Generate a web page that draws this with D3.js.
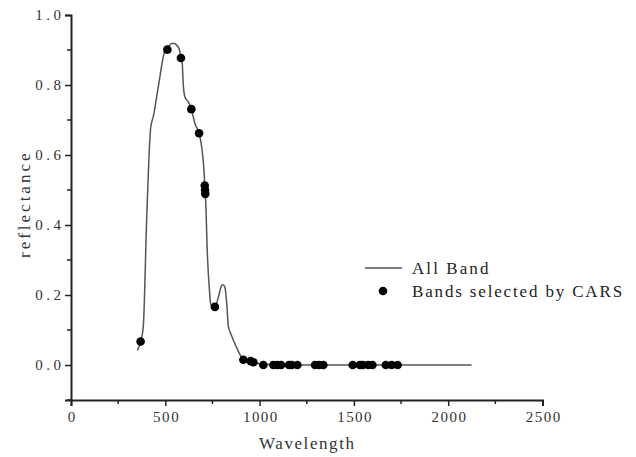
<!DOCTYPE html>
<html>
<head>
<meta charset="utf-8">
<script src="https://cdn.jsdelivr.net/npm/d3@7"></script>
<style>
  body { margin: 0; background: #fff; }
  svg text { font-family: "Liberation Serif", "DejaVu Serif", serif; }
</style>
</head>
<body>
<div id="chart"></div>
<script>
// full spectrum (wavelength nm, reflectance)
var bandWl = [352, 369, 383, 401, 413, 423, 436, 463, 495, 511, 525, 537, 550, 560, 574, 583, 590, 595, 604, 622, 638, 657, 679, 693, 705, 710, 714, 723, 733, 741, 754, 764, 781, 798, 806, 816, 826, 834, 852, 878, 905, 914, 953, 967, 1020, 1073, 1200, 1500, 1800, 2124];
var bandR  = [0.042, 0.067, 0.107, 0.413, 0.590, 0.680, 0.709, 0.795, 0.893, 0.905, 0.915, 0.919, 0.918, 0.914, 0.902, 0.877, 0.860, 0.804, 0.766, 0.752, 0.731, 0.690, 0.662, 0.623, 0.556, 0.505, 0.470, 0.317, 0.222, 0.174, 0.164, 0.166, 0.193, 0.226, 0.229, 0.222, 0.174, 0.112, 0.083, 0.050, 0.021, 0.015, 0.011, 0.008, 0.002, 0.001, 0.0, 0.0, 0.0, 0.0];

// bands picked by CARS
var carsWl = [369, 511, 583, 638, 679, 709, 711, 712, 763, 914, 953, 967, 1020, 1073, 1094, 1114, 1156, 1170, 1200, 1294, 1315, 1338, 1494, 1532, 1547, 1576, 1598, 1669, 1700, 1732];
var carsR  = [0.067, 0.901, 0.877, 0.731, 0.662, 0.513, 0.500, 0.489, 0.166, 0.015, 0.011, 0.008, 0.0, 0.0, 0.0, 0.0, 0.0, 0.0, 0.0, 0.0, 0.0, 0.0, 0.0, 0.0, 0.0, 0.0, 0.0, 0.0, 0.0, 0.0];

var xTicks = [0, 500, 1000, 1500, 2000, 2500];
var yTicks = [0.0, 0.2, 0.4, 0.6, 0.8, 1.0];
var legendLabels = ["All Band", "Bands selected by CARS"];

var width = 636, height = 457;
var svg = d3.select("#chart").append("svg")
    .attr("width", width)
    .attr("height", height);

var x = d3.scaleLinear().domain([0, 2500]).range([71, 542.5]);
var y = d3.scaleLinear().domain([-0.1, 1.0]).range([400, 15]);

// minor ticks
var xMinor = d3.range(0, 2501, 250).filter(function(d){ return d % 500 != 0; });
var yMinor = d3.range(-0.1, 1.0, 0.2).map(function(d){ return +d.toFixed(1); });

svg.append("g").selectAll("line").data(xMinor).enter().append("line")
    .attr("x1", function(d){ return x(d); }).attr("x2", function(d){ return x(d); })
    .attr("y1", 400).attr("y2", 404)
    .attr("stroke", "#222").attr("stroke-width", 1.5);
svg.append("g").selectAll("line").data(yMinor).enter().append("line")
    .attr("y1", function(d){ return y(d); }).attr("y2", function(d){ return y(d); })
    .attr("x1", 71).attr("x2", 67)
    .attr("stroke", "#222").attr("stroke-width", 1.5);

var xAxis = svg.append("g")
    .attr("transform", "translate(0,400)")
    .call(d3.axisBottom(x).tickValues(xTicks).tickSize(6).tickPadding(5).tickFormat(d3.format("d")));
var yAxis = svg.append("g")
    .attr("transform", "translate(71,0)")
    .call(d3.axisLeft(y).tickValues(yTicks).tickSize(6).tickPadding(4).tickFormat(d3.format(".1f")));

// monospace-like spacing: stretch each label to ~9px per char
function mono(sel, perChar) {
    sel.attr("textLength", function(){ return this.textContent.length * perChar; })
       .attr("lengthAdjust", "spacing");
}

[xAxis, yAxis].forEach(function(a){
    a.attr("font-family", null);
    a.select(".domain").attr("stroke", "#222").attr("stroke-width", 2);
    a.selectAll(".tick line").attr("stroke", "#222").attr("stroke-width", 1.5);
    a.selectAll(".tick text")
        .attr("fill", "#333")
        .style("font-size", "15px")
        .call(mono, 8.6);
});

svg.append("text").text("Wavelength")
    .attr("x", 259).attr("y", 449)
    .attr("fill", "#333")
    .style("font-size", "17px")
    .call(mono, 9.5);

svg.append("text").text("reflectance")
    .attr("transform", "translate(30,258) rotate(-90)")
    .attr("fill", "#333")
    .style("font-size", "17px")
    .call(mono, 9.5);

var spectrum = bandWl.map(function(d, i){ return [d, bandR[i]]; });
var line = d3.line()
    .x(function(d){ return x(d[0]); })
    .y(function(d){ return y(d[1]); })
    .curve(d3.curveMonotoneX);

svg.append("path")
    .datum(spectrum)
    .attr("d", line)
    .attr("fill", "none")
    .attr("stroke", "#555")
    .attr("stroke-width", 1.5);

var selected = carsWl.map(function(d, i){ return [d, carsR[i]]; });
svg.append("g").selectAll("circle").data(selected).enter().append("circle")
    .attr("cx", function(d){ return x(d[0]); })
    .attr("cy", function(d){ return y(d[1]); })
    .attr("r", 4.3)
    .attr("fill", "#000");

// legend
var legend = svg.append("g");
legend.append("line")
    .attr("x1", 365).attr("x2", 402).attr("y1", 268).attr("y2", 268)
    .attr("stroke", "#555").attr("stroke-width", 1.5);
legend.append("circle")
    .attr("cx", 383).attr("cy", 291).attr("r", 4.3).attr("fill", "#000");
legend.selectAll("text").data(legendLabels).enter().append("text")
    .attr("x", 412)
    .attr("y", function(d, i){ return 274 + i * 23; })
    .attr("fill", "#222")
    .style("font-size", "17px")
    .text(function(d){ return d; })
    .call(mono, 9.55);
</script>
</body>
</html>
